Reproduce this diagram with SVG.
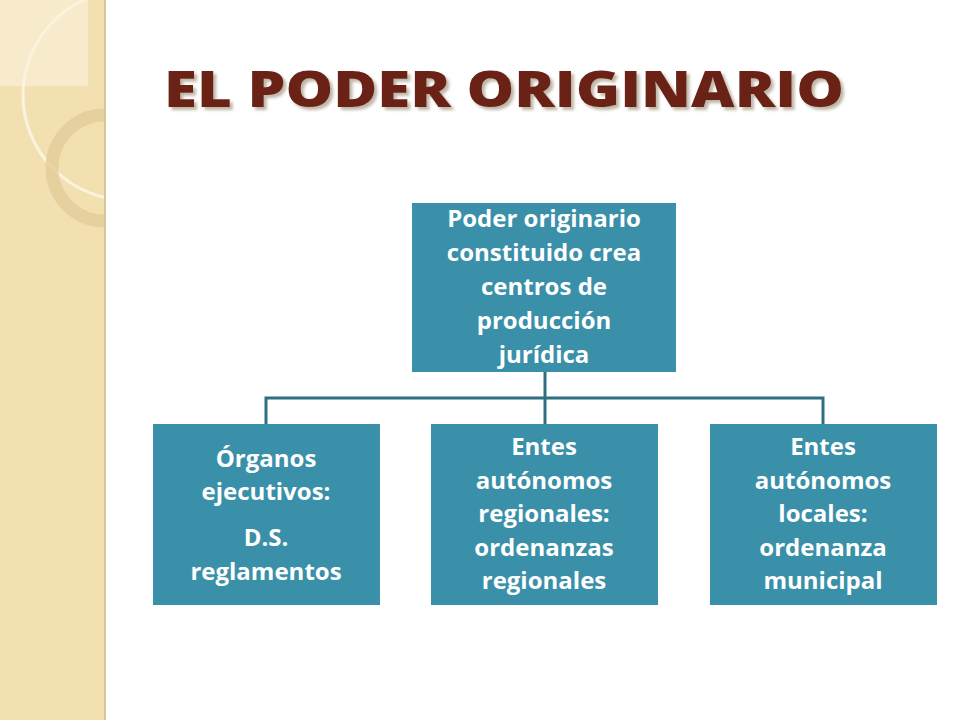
<svg xmlns="http://www.w3.org/2000/svg" width="960" height="720" viewBox="0 0 960 720">
<defs>
<style>
.n{fill:#3a90a8}
.t{font-family:"Open Sans",Lato,sans-serif;font-weight:bold;font-size:24px;fill:#fff;text-anchor:middle}
.c{stroke:#2f6f82;stroke-width:3;fill:none}
</style>
<clipPath id="cl"><rect x="0" y="0" width="105" height="720"/></clipPath>
<filter id="sh" x="-5%" y="-30%" width="110%" height="160%"><feDropShadow dx="3" dy="3" stdDeviation="1.5" flood-color="#8a7a60" flood-opacity="0.55"/></filter>
</defs>
<rect width="960" height="720" fill="#fff"/>
<g clip-path="url(#cl)">
<rect x="0" y="0" width="105" height="720" fill="#f2e0b0"/>
<rect x="0" y="0" width="88" height="86" fill="#f7ebcc"/>
<circle cx="128" cy="95" r="105" fill="none" stroke="#fbf3df" stroke-width="3"/>
<circle cx="105" cy="168" r="53" fill="none" stroke="#e2cc98" stroke-width="13" opacity="0.8"/>
</g>
<rect x="104" y="0" width="2" height="720" fill="#d9c698"/>
<text x="504" y="107" font-family="'Open Sans',Lato,sans-serif" font-weight="800" font-size="50" fill="#6b2418" text-anchor="middle" textLength="680" lengthAdjust="spacingAndGlyphs" filter="url(#sh)">EL PODER ORIGINARIO</text>
<g id="connectors">
<path class="c" d="M545 372V398M266 424V398H823V424M545 398V424"/>
</g>
<g id="top">
<rect class="n" x="412" y="203" width="264" height="169"/>
<text class="t" x="544" y="227">Poder originario</text>
<text class="t" x="544" y="261">constituido crea</text>
<text class="t" x="544" y="295">centros de</text>
<text class="t" x="544" y="329">producción</text>
<text class="t" x="544" y="363">jurídica</text>
</g>
<g id="n1">
<rect class="n" x="153" y="424" width="227" height="181"/>
<text class="t" x="266" y="467">Órganos</text>
<text class="t" x="266" y="500">ejecutivos:</text>
<text class="t" x="266" y="546">D.S.</text>
<text class="t" x="266" y="580">reglamentos</text>
</g>
<g id="n2">
<rect class="n" x="431" y="424" width="227" height="181"/>
<text class="t" x="544" y="455">Entes</text>
<text class="t" x="544" y="489">autónomos</text>
<text class="t" x="544" y="522">regionales:</text>
<text class="t" x="544" y="556">ordenanzas</text>
<text class="t" x="544" y="589">regionales</text>
</g>
<g id="n3">
<rect class="n" x="710" y="424" width="227" height="181"/>
<text class="t" x="823" y="455">Entes</text>
<text class="t" x="823" y="489">autónomos</text>
<text class="t" x="823" y="522">locales:</text>
<text class="t" x="823" y="556">ordenanza</text>
<text class="t" x="823" y="589">municipal</text>
</g>
</svg>
